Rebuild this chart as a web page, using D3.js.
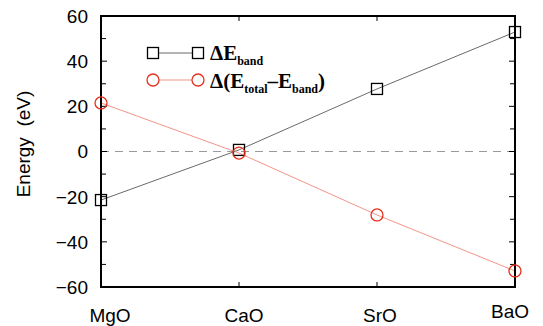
<!DOCTYPE html>
<html><head><meta charset="utf-8">
<script src="https://cdn.jsdelivr.net/npm/d3@7"></script>
<style>body{margin:0;background:#fff}svg{display:block}</style>
</head><body>
<svg id="c" width="543" height="326"></svg>
<script>
const categories = ["MgO", "CaO", "SrO", "BaO"];
const bandValues = [-21.5, 0.7, 27.7, 52.9];
const otherValues = [21.5, -0.7, -28.1, -52.9];
const yTicks = [-60, -40, -20, 0, 20, 40, 60];
const yMinor = [-50, -30, -10, 10, 30, 50];

const svg = d3.select("#c");
const L = 101, R = 515, T = 16, B = 287;
const x = d3.scalePoint().domain(categories).range([L, R]);
const y = d3.scaleLinear().domain([-60, 60]).range([B, T]);
const font = "Liberation Sans, Arial, Helvetica, sans-serif";

// zero dashed line
svg.append("line").attr("x1", L).attr("x2", R).attr("y1", y(0)).attr("y2", y(0))
  .attr("stroke", "#9a9a9a").attr("stroke-width", 1).attr("stroke-dasharray", "8,6");

// ticks (inward) left & right
const tickG = svg.append("g").attr("stroke", "#000").attr("stroke-width", 1);
yTicks.concat(yMinor).forEach(v => {
  const len = yTicks.includes(v) ? 6 : 5;
  tickG.append("line").attr("x1", L).attr("x2", L + len).attr("y1", y(v)).attr("y2", y(v));
  tickG.append("line").attr("x1", R).attr("x2", R - len).attr("y1", y(v)).attr("y2", y(v));
});
categories.forEach(c => {
  tickG.append("line").attr("x1", x(c)).attr("x2", x(c)).attr("y1", B).attr("y2", B - 5);
  tickG.append("line").attr("x1", x(c)).attr("x2", x(c)).attr("y1", T).attr("y2", T + 5);
});

// y tick labels
const fmt = v => (v < 0 ? "\u2212" + Math.abs(v) : "" + v);
svg.append("g").selectAll("text").data(yTicks).join("text")
  .attr("x", 88).attr("y", d => y(d)).attr("dy", "0.36em")
  .attr("text-anchor", "end").attr("font-family", font).attr("font-size", 19)
  .text(fmt);

// x labels
const xOff = [9, 5, 3, -5];
const xDy = [322, 322, 322, 318];
svg.append("g").selectAll("text").data(categories).join("text")
  .attr("x", (d, i) => x(d) + xOff[i]).attr("y", (d, i) => xDy[i])
  .attr("text-anchor", "middle").attr("font-family", font).attr("font-size", 19)
  .text(d => d);

// y axis title
svg.append("text").attr("transform", "translate(30,144) rotate(-90)")
  .attr("text-anchor", "middle").attr("font-family", font).attr("font-size", 19)
  .style("white-space", "pre").text("Energy  (eV)");

// lines
const line = d3.line().x((d, i) => x(categories[i])).y(d => y(d));
svg.append("path").datum(bandValues).attr("d", line).attr("fill", "none")
  .attr("stroke", "#444").attr("stroke-width", 0.8);
svg.append("path").datum(otherValues).attr("d", line).attr("fill", "none")
  .attr("stroke", "#f07a6a").attr("stroke-width", 0.8);

// frame
svg.append("rect").attr("x", L).attr("y", T).attr("width", R - L).attr("height", B - T)
  .attr("fill", "none").attr("stroke", "#000").attr("stroke-width", 2);

// markers
const S = 11;
svg.append("g").selectAll("rect").data(bandValues).join("rect")
  .attr("x", (d, i) => x(categories[i]) - S / 2).attr("y", d => y(d) - S / 2)
  .attr("width", S).attr("height", S).attr("fill", "none").attr("stroke", "#000").attr("stroke-width", 1.3);
svg.append("g").selectAll("circle").data(otherValues).join("circle")
  .attr("cx", (d, i) => x(categories[i])).attr("cy", d => y(d)).attr("r", 6)
  .attr("fill", "none").attr("stroke", "#e8301c").attr("stroke-width", 1.3);

// legend
const lg = svg.append("g");
lg.append("line").attr("x1", 153).attr("x2", 198).attr("y1", 53).attr("y2", 53).attr("stroke", "#444").attr("stroke-width", 0.8);
[153, 198].forEach(cx => lg.append("rect").attr("x", cx - S / 2).attr("y", 53 - S / 2).attr("width", S).attr("height", S)
  .attr("fill", "#fff").attr("stroke", "#000").attr("stroke-width", 1.3));
lg.append("line").attr("x1", 153).attr("x2", 198).attr("y1", 80).attr("y2", 80).attr("stroke", "#f07a6a").attr("stroke-width", 0.8);
[153, 198].forEach(cx => lg.append("circle").attr("cx", cx).attr("cy", 80).attr("r", 6)
  .attr("fill", "#fff").attr("stroke", "#e8301c").attr("stroke-width", 1.3));

const serif = "Liberation Serif, Times New Roman, serif";
const t1 = lg.append("text").attr("x", 210).attr("y", 60).attr("font-family", serif)
  .attr("font-weight", "bold").attr("font-size", 21);
t1.append("tspan").text("\u0394E");
t1.append("tspan").attr("font-size", 12).attr("dy", 5).text("band");

const t2 = lg.append("text").attr("x", 210).attr("y", 88).attr("font-family", serif)
  .attr("font-weight", "bold").attr("font-size", 21);
t2.append("tspan").text("\u0394(E");
t2.append("tspan").attr("font-size", 12).attr("dy", 5).text("total");
t2.append("tspan").attr("dy", -5).text("\u2013E");
t2.append("tspan").attr("font-size", 12).attr("dy", 5).text("band");
t2.append("tspan").attr("dy", -5).text(")");
</script>
</body></html>
